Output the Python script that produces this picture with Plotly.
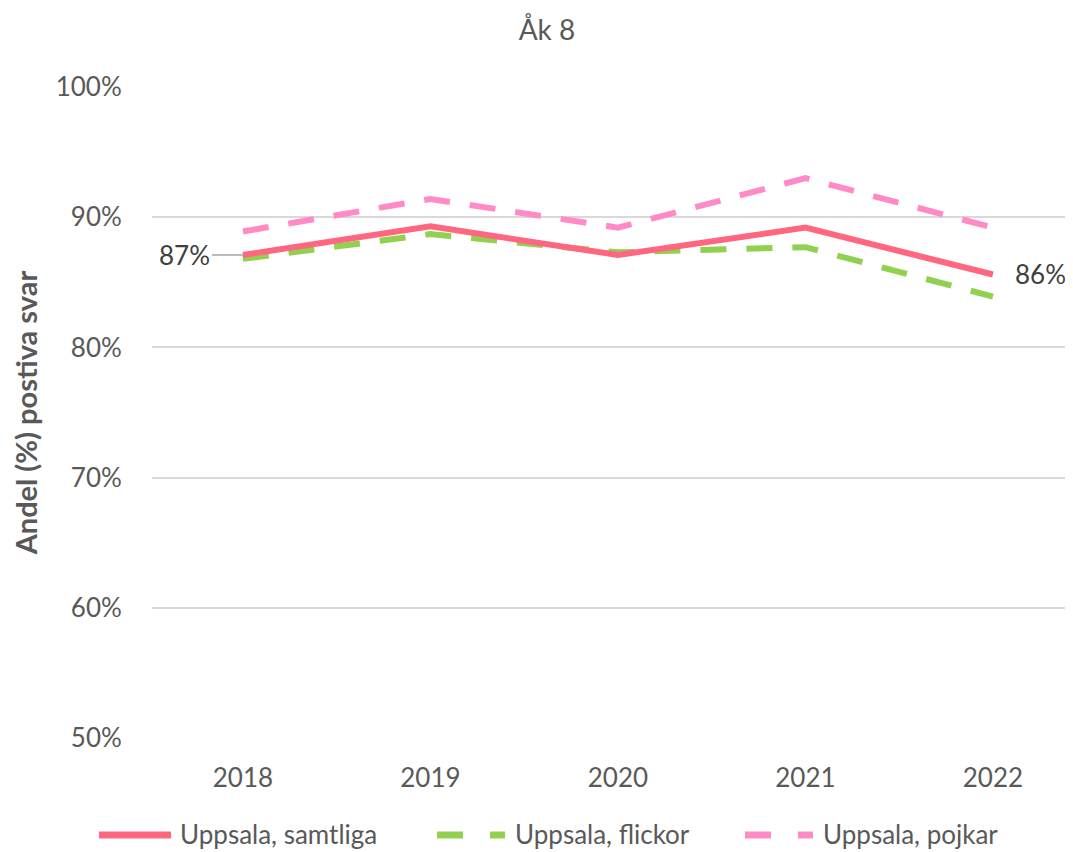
import plotly.graph_objects as go

years = ["2018", "2019", "2020", "2021", "2022"]
samtliga = [87.1, 89.3, 87.1, 89.2, 85.6]
flickor = [86.8, 88.7, 87.3, 87.7, 83.9]
pojkar = [88.9, 91.4, 89.2, 93.0, 89.2]
y_ticks = [50, 60, 70, 80, 90, 100]
y_tick_labels = ["50%", "60%", "70%", "80%", "90%", "100%"]
series_names = ["Uppsala, samtliga", "Uppsala, flickor", "Uppsala, pojkar"]

RED = "#FF6680"
GREEN = "#92D050"
PINK = "#FF8AC6"
FONT = "Lato, sans-serif"
GRAY = "#595959"

xi = list(range(len(years)))

# page body has an 8px margin; size the figure so it fits the window
OFF = 8
W, H = 1073 - OFF, 852 - OFF
L, R, T, B = 152 - OFF, 0, 87 - OFF, H - (738 - OFF)
pw, ph = W - L - R, H - T - B


def px_x(p):
    return (p - OFF - L) / pw


def px_y(p):
    return (H - B - (p - OFF)) / ph


fig = go.Figure()
fig.add_trace(go.Scatter(x=xi, y=pojkar, mode="lines", name=series_names[2],
                         line=dict(color=PINK, width=6, dash="26px,20px")))
fig.add_trace(go.Scatter(x=xi, y=flickor, mode="lines", name=series_names[1],
                         line=dict(color=GREEN, width=6, dash="26px,20px")))
fig.add_trace(go.Scatter(x=xi, y=samtliga, mode="lines", name=series_names[0],
                         line=dict(color=RED, width=6)))

# data labels
fig.add_annotation(x=xi[0], y=samtliga[0], text=f"{round(samtliga[0])}%",
                   showarrow=True, ax=-58, ay=0, arrowhead=0, arrowwidth=1.5,
                   arrowcolor="#A6A6A6", standoff=0,
                   font=dict(family=FONT, size=26, color="#404040"))
fig.add_annotation(x=xi[-1], y=samtliga[-1], text=f"{round(samtliga[-1])}%",
                   showarrow=False, xanchor="left", xshift=20,
                   font=dict(family=FONT, size=26, color="#404040"))

# custom legend
legend_items = [
    (series_names[0], RED, [(99, 171)], 178),
    (series_names[1], GREEN, [(437, 463), (490, 505)], 513),
    (series_names[2], PINK, [(745, 771), (798, 813)], 821),
]
ly = 835
for name, col, segs, xt in legend_items:
    for a, b in segs:
        fig.add_shape(type="line", xref="paper", yref="paper",
                      x0=px_x(a), x1=px_x(b), y0=px_y(ly), y1=px_y(ly),
                      line=dict(color=col, width=7))
    fig.add_annotation(xref="paper", yref="paper", x=px_x(xt), y=px_y(ly - 1),
                       text=name, showarrow=False, xanchor="left", yanchor="middle",
                       font=dict(family=FONT, size=26, color=GRAY))

fig.update_layout(
    width=W, height=H,
    margin=dict(l=L, r=R, t=T, b=B),
    paper_bgcolor="white", plot_bgcolor="white",
    showlegend=False,
    title=dict(text="Åk 8", x=px_x(547), xref="paper", xanchor="center",
               y=1 - (30 - OFF) / H, yanchor="middle",
               font=dict(family=FONT, size=28, color=GRAY)),
    font=dict(family=FONT, color=GRAY),
)
fig.update_xaxes(range=[-0.485, 4.427], tickmode="array", tickvals=xi, ticktext=years,
                 showgrid=False, zeroline=False, showline=False,
                 ticks="outside", ticklen=17, tickcolor="rgba(0,0,0,0)",
                 tickfont=dict(family=FONT, size=26, color=GRAY))
fig.update_yaxes(range=[50, 100], tickmode="array", tickvals=y_ticks, ticktext=y_tick_labels,
                 showgrid=True, gridcolor="#D9D9D9", gridwidth=1.5, zeroline=False,
                 showline=False, ticks="outside", ticklen=24, tickcolor="rgba(0,0,0,0)",
                 tickfont=dict(family=FONT, size=26, color=GRAY),
                 title=dict(text="<b>Andel (%) postiva svar</b>", standoff=14,
                            font=dict(family=FONT, size=29, color=GRAY)))

fig.write_html("out.html")
